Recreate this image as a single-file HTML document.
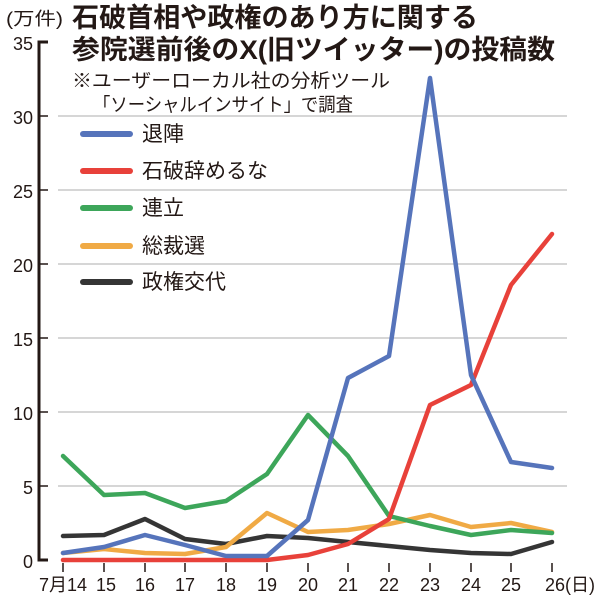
<!DOCTYPE html>
<html><head><meta charset="utf-8"><style>
body{margin:0;background:#fff}
svg text{font-family:"Liberation Sans","Noto Sans CJK JP",sans-serif;fill:#231815}
</style></head><body>
<svg width="607" height="602" viewBox="0 0 607 602" xmlns="http://www.w3.org/2000/svg">
<rect width="607" height="602" fill="#fff"/>
<g stroke="#c8c8c8" stroke-width="1.5">
<line x1="58" y1="486" x2="567" y2="486"/><line x1="58" y1="412" x2="567" y2="412"/>
<line x1="58" y1="338" x2="567" y2="338"/><line x1="58" y1="264" x2="567" y2="264"/>
<line x1="58" y1="190" x2="567" y2="190"/><line x1="58" y1="116" x2="567" y2="116"/>
</g>
<g stroke="#231815" stroke-width="3" fill="none">
<polyline points="48,42 39,42 39,560 48,560"/>
</g>
<g stroke="#231815" stroke-width="1.5">
<line x1="39" y1="116" x2="48" y2="116"/><line x1="39" y1="190" x2="48" y2="190"/>
<line x1="39" y1="264" x2="48" y2="264"/><line x1="39" y1="338" x2="48" y2="338"/>
<line x1="39" y1="412" x2="48" y2="412"/><line x1="39" y1="486" x2="48" y2="486"/>
<line x1="63" y1="563" x2="63" y2="572"/><line x1="104" y1="563" x2="104" y2="572"/><line x1="145" y1="563" x2="145" y2="572"/><line x1="185" y1="563" x2="185" y2="572"/><line x1="226" y1="563" x2="226" y2="572"/><line x1="267" y1="563" x2="267" y2="572"/><line x1="308" y1="563" x2="308" y2="572"/><line x1="348" y1="563" x2="348" y2="572"/><line x1="389" y1="563" x2="389" y2="572"/><line x1="430" y1="563" x2="430" y2="572"/><line x1="471" y1="563" x2="471" y2="572"/><line x1="511" y1="563" x2="511" y2="572"/><line x1="552" y1="563" x2="552" y2="572"/>
</g>
<g font-size="18" text-anchor="end">
<text x="33" y="50">35</text><text x="33" y="124">30</text><text x="33" y="198">25</text><text x="33" y="272">20</text><text x="33" y="346">15</text><text x="33" y="420">10</text><text x="33" y="494">5</text><text x="33" y="568">0</text>
</g>
<g font-size="18" text-anchor="middle">
<text x="63" y="591">7月14</text><text x="106" y="591">15</text><text x="145" y="591">16</text><text x="185" y="591">17</text><text x="226" y="591">18</text><text x="267" y="591">19</text><text x="308" y="591">20</text><text x="348" y="591">21</text><text x="389" y="591">22</text><text x="430" y="591">23</text><text x="471" y="591">24</text><text x="511" y="591">25</text><text x="570" y="591">26(日)</text>
</g>
<g fill="none" stroke-width="4.5" stroke-linejoin="round" stroke-linecap="round">
<polyline stroke="#353535" points="63,536 104,535 145,519 185,539 226,544 267,536 308,538 348,542 389,546 430,550 471,553 511,554 552,542"/>
<polyline stroke="#f0aa45" points="63,553 104,549 145,553 185,554 226,547 267,513 308,532 348,530 389,524 430,515 471,527 511,523 552,532"/>
<polyline stroke="#3da65a" points="63,456 104,495 145,493 185,508 226,501 267,474 308,415 348,456 389,516 430,526 471,535 511,530 552,533"/>
<polyline stroke="#e8413a" points="63,560 104,560 145,560 185,560 226,560 267,560 308,555 348,544 389,519 430,405 471,385 511,285 552,234"/>
<polyline stroke="#5674bb" points="63,553 104,547 145,535 185,545 226,556 267,556 308,520 348,378 389,356 430,78 471,375 511,462 552,468"/>
</g>
<g stroke-width="6" stroke-linecap="round">
<line x1="83" y1="134" x2="130" y2="134" stroke="#5674bb"/>
<line x1="83" y1="171" x2="130" y2="171" stroke="#e8413a"/>
<line x1="83" y1="208" x2="130" y2="208" stroke="#3da65a"/>
<line x1="83" y1="246" x2="130" y2="246" stroke="#f0aa45"/>
<line x1="83" y1="282" x2="130" y2="282" stroke="#353535"/>
</g>
<g font-size="21">
<text x="142" y="141">退陣</text><text x="142" y="178">石破辞めるな</text><text x="142" y="215">連立</text><text x="142" y="253">総裁選</text><text x="142" y="289">政権交代</text>
</g>
<text x="6" y="25" font-size="18" textLength="57" lengthAdjust="spacingAndGlyphs">(万件)</text>
<text x="72" y="27" font-size="27" font-weight="bold" textLength="406" lengthAdjust="spacingAndGlyphs">石破首相や政権のあり方に関する</text>
<text x="72" y="59" font-size="27" font-weight="bold" textLength="483" lengthAdjust="spacingAndGlyphs">参院選前後のX(旧ツイッター)の投稿数</text>
<text x="72" y="87" font-size="19" textLength="318" lengthAdjust="spacingAndGlyphs" font-family="'Liberation Serif','Noto Serif CJK SC',serif">※ユーザーローカル社の分析ツール</text>
<text x="93" y="111" font-size="19" textLength="260" lengthAdjust="spacingAndGlyphs" font-family="'Liberation Serif','Noto Serif CJK SC',serif">「ソーシャルインサイト」で調査</text>
</svg>
</body></html>
